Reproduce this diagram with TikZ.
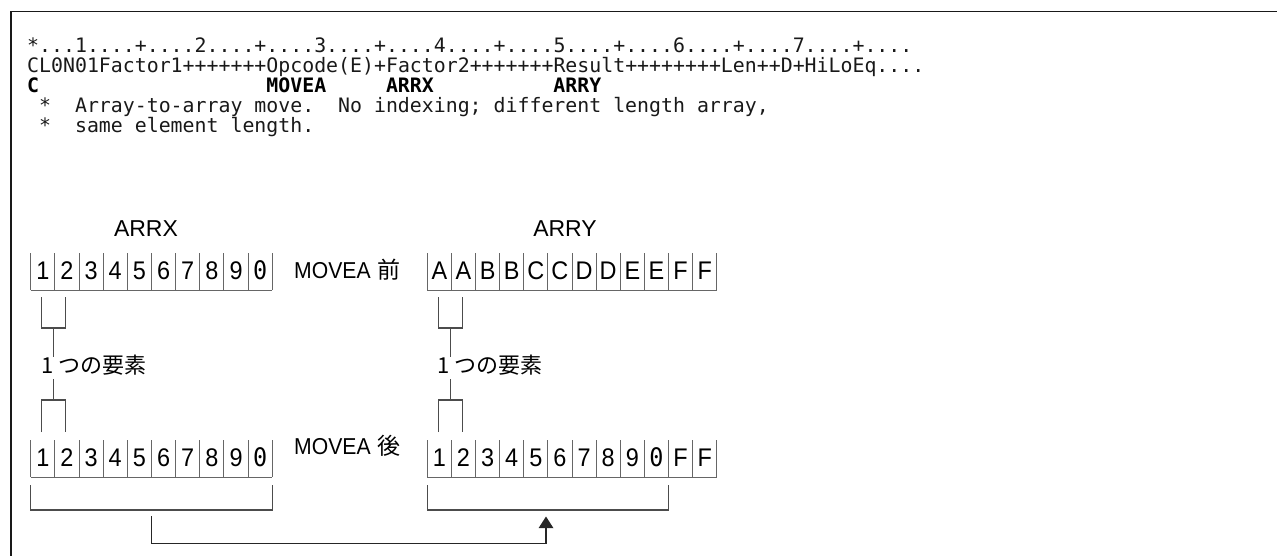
\documentclass[tikz,border=0pt]{standalone}
\usepackage{fontspec}
\setmainfont{Liberation Sans}
\newfontfamily\codefont{DejaVu Sans Mono}
\newfontfamily\zerofont{DejaVu Sans Mono}
\newfontfamily\cjk{Noto Sans CJK JP}
\usetikzlibrary{arrows.meta}
\newcommand{\narrow}[1]{\scalebox{0.92}[1]{#1}}
\begin{document}
\begin{tikzpicture}[x=1pt,y=-1pt,
  code/.style={inner sep=0pt, anchor=base west, text=black!90, font=\codefont\fontsize{19.87}{20}\selectfont},
  codeb/.style={code, text=black, font=\codefont\bfseries\fontsize{19.87}{20}\selectfont},
  celltxt/.style={inner sep=0pt, anchor=base, font=\fontsize{25.5}{26}\selectfont},
  lbl/.style={inner sep=0pt, anchor=base, font=\fontsize{23}{24}\selectfont},
  jlbl/.style={inner sep=0pt, anchor=base west, font=\cjk\fontsize{22}{24}\selectfont},
  cellline/.style={draw=black!60, line width=1pt},
  brk/.style={draw=black!70, line width=1.2pt},
  arr/.style={draw=black!85, line width=1.2pt, -{Triangle[width=14.7pt,length=11.7pt]}},
  frame/.style={draw=black!90, line width=1.6pt}]
\useasboundingbox (0,0) rectangle (1277,556);
% frame (top and left)
\draw[frame] (11,556) -- (11,11.7) -- (1277,11.7);
% code lines
\def\cw{11.96}
\node[code] (l1) at (27,53) {*...1....+....2....+....3....+....4....+....5....+....6....+....7....+....};
\node[code] (l2) at (27,72.8) {CL0N01Factor1+++++++Opcode(E)+Factor2+++++++Result++++++++Len++D+HiLoEq....};
\node[codeb] (l3a) at (27,92.6) {C};
\node[codeb] (l3b) at ({27+20*\cw},92.6) {MOVEA};
\node[codeb] (l3c) at ({27+30*\cw},92.6) {ARRX};
\node[codeb] (l3d) at ({27+44*\cw},92.6) {ARRY};
\node[code] (l4a) at ({27+1*\cw},112.4) {*};
\node[code] (l4b) at ({27+4*\cw},112.4) {Array-to-array move.};
\node[code] (l4c) at ({27+26*\cw},112.4) {No indexing; different length array,};
\node[code] (l5a) at ({27+1*\cw},132.2) {*};
\node[code] (l5b) at ({27+4*\cw},132.2) {same element length.};
% labels
\node[lbl] (arrx) at (146,236.7) {ARRX};
\node[lbl] (arry) at (565,236.7) {ARRY};
\node[lbl, anchor=base west] (before) at (294,278) {\narrow{MOVEA} {\cjk 前}};
\node[lbl, anchor=base west] (after) at (294,454) {\narrow{MOVEA} {\cjk 後}};
% ---- cell rows ----
\def\wl{24.16}
\def\wr{24.12}
% top-left row
\foreach \k in {0,...,10} \draw[cellline] ({30.7+\k*\wl},253) -- ({30.7+\k*\wl},290);
\draw[cellline] (30.7,290) -- (272.3,290);
\foreach \t [count=\i from 0] in {1,2,3,4,5,6,7,8,9,{\zerofont 0}}
  \node[celltxt] (tl\i) at ({30.7+(\i+0.5)*\wl},279) {\narrow{\t}};
% top-right row
\foreach \k in {0,...,12} \draw[cellline] ({427.3+\k*\wr},253) -- ({427.3+\k*\wr},290);
\draw[cellline] (427.3,290) -- (716.7,290);
\foreach \t [count=\i from 0] in {A,A,B,B,C,C,D,D,E,E,F,F}
  \node[celltxt] (tr\i) at ({427.3+(\i+0.5)*\wr},279) {\narrow{\t}};
% bottom-left row
\foreach \k in {0,...,10} \draw[cellline] ({30.7+\k*\wl},440) -- ({30.7+\k*\wl},477);
\draw[cellline] (30.7,477) -- (272.3,477);
\foreach \t [count=\i from 0] in {1,2,3,4,5,6,7,8,9,{\zerofont 0}}
  \node[celltxt] (bl\i) at ({30.7+(\i+0.5)*\wl},466) {\narrow{\t}};
% bottom-right row
\foreach \k in {0,...,12} \draw[cellline] ({427.3+\k*\wr},440) -- ({427.3+\k*\wr},477);
\draw[cellline] (427.3,477) -- (716.7,477);
\foreach \t [count=\i from 0] in {1,2,3,4,5,6,7,8,9,{\zerofont 0},F,F}
  \node[celltxt] (br\i) at ({427.3+(\i+0.5)*\wr},466) {\narrow{\t}};
% ---- element brackets ----
\foreach \o/\n in {0/ex, 396.6/ey} {
  \draw[brk] ({41.5+\o},297) -- ({41.5+\o},328) -- ({65.5+\o},328) -- ({65.5+\o},297);
  \draw[brk] ({53.5+\o},328) -- ({53.5+\o},357);
  \node[jlbl] (\n) at ({41+\o},373) {1 つの要素};
  \draw[brk] ({53.5+\o},379) -- ({53.5+\o},400);
  \draw[brk] ({41.5+\o},432) -- ({41.5+\o},400) -- ({65.5+\o},400) -- ({65.5+\o},432);
}
% ---- bottom brackets and arrow ----
\draw[brk] (30.7,485) -- (30.7,510) -- (272.3,510) -- (272.3,485);
\draw[brk] (427.3,485) -- (427.3,510) -- (668.6,510) -- (668.6,485);
\coordinate (lbm) at (151.5,516);
\coordinate (rbm) at (546,516.5);
\coordinate (ay) at (0,543.3);
\draw[arr] (lbm) |- (ay -| rbm) -- (rbm);
\end{tikzpicture}
\end{document}
